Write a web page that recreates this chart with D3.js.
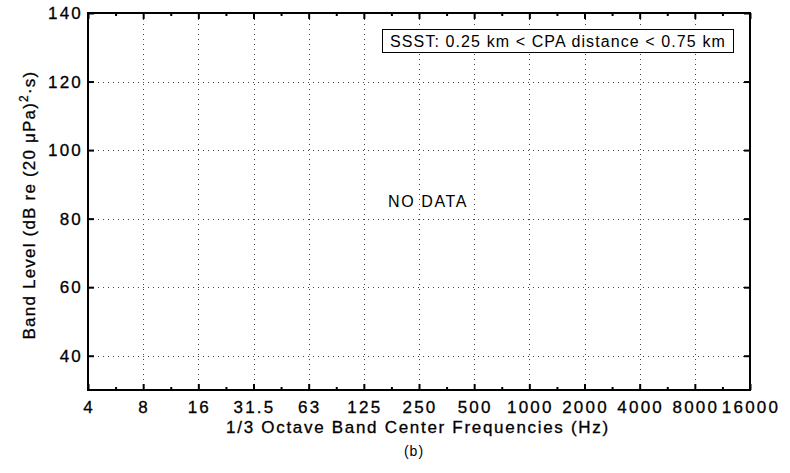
<!DOCTYPE html>
<html>
<head>
<meta charset="utf-8">
<script src="https://cdn.jsdelivr.net/npm/d3@7"></script>
<style>
  html, body { margin: 0; padding: 0; background: #fff; }
  svg { display: block; font-family: "Liberation Sans", Arial, Helvetica, sans-serif; }
</style>
</head>
<body>
<svg id="chart" width="790" height="473"></svg>
<script>
// 1/3-octave band centre labels shown on the x axis (one per octave)
const bandLabels = ["4", "8", "16", "31.5", "63", "125", "250", "500", "1000", "2000", "4000", "8000", "16000"];
// Band level axis
const levelDomain = [30, 140];
const levelTicks = [40, 60, 80, 100, 120, 140];
// Series values: no measurements for this CPA range
const bandLevels = [];
const legendText = "SSST: 0.25 km < CPA distance < 0.75 km";
const emptyText = "NO DATA";

const svg = d3.select("#chart");
const margin = { left: 88, right: 40, top: 13, bottom: 83 };
const W = 790, H = 473;
const x0 = margin.left, x1 = W - margin.right;
const y0 = H - margin.bottom, y1 = margin.top;

// Octave-spaced frequency positions (exact powers of two behind the nominal labels)
const octaveFreq = bandLabels.map((_, i) => 4 * Math.pow(2, i));
const x = d3.scaleLog().base(2).domain([octaveFreq[0], octaveFreq[octaveFreq.length - 1]]).range([x0, x1]);
const y = d3.scaleLinear().domain(levelDomain).range([y0, y1]);
const minorFreq = octaveFreq.slice(0, -1).map((f) => f * Math.SQRT2);

// Dotted grid
const grid = svg.append("g").attr("stroke", "#444").attr("stroke-width", 1).attr("stroke-dasharray", "1,4");
grid.selectAll("line.vx").data(octaveFreq.slice(1, -1)).join("line")
  .attr("x1", (d) => Math.round(x(d)) + 0.5).attr("x2", (d) => Math.round(x(d)) + 0.5)
  .attr("y1", y0).attr("y2", y1);
grid.selectAll("line.hy").data(levelTicks.filter((v) => v < levelDomain[1])).join("line")
  .attr("x1", x0).attr("x2", x1)
  .attr("y1", (d) => Math.round(y(d)) + 0.5).attr("y2", (d) => Math.round(y(d)) + 0.5);

// Data series (empty)
const line = d3.line().x((d, i) => x(octaveFreq[i])).y((d) => y(d));
svg.append("path").datum(bandLevels).attr("fill", "none").attr("stroke", "#000").attr("d", line);

// Axes with inward ticks on all four sides
const tickStyle = (g) => {
  g.select(".domain").remove();
  g.selectAll(".tick line").attr("stroke", "#000").attr("stroke-width", 2);
};
svg.append("g").attr("transform", `translate(0,${y0})`)
  .call(d3.axisBottom(x).tickValues(octaveFreq).tickSize(-6).tickFormat(""))
  .call(tickStyle);
svg.append("g").attr("transform", `translate(0,${y1})`)
  .call(d3.axisTop(x).tickValues(octaveFreq).tickSize(-6).tickFormat(""))
  .call(tickStyle);
svg.append("g").attr("transform", `translate(0,${y0})`)
  .call(d3.axisBottom(x).tickValues(minorFreq).tickSize(-3).tickFormat(""))
  .call(tickStyle);
svg.append("g").attr("transform", `translate(0,${y1})`)
  .call(d3.axisTop(x).tickValues(minorFreq).tickSize(-3).tickFormat(""))
  .call(tickStyle);
svg.append("g").attr("transform", `translate(${x0},0)`)
  .call(d3.axisLeft(y).tickValues(levelTicks).tickSize(-6).tickFormat(""))
  .call(tickStyle);
svg.append("g").attr("transform", `translate(${x1},0)`)
  .call(d3.axisRight(y).tickValues(levelTicks).tickSize(-6).tickFormat(""))
  .call(tickStyle);

// Plot frame
svg.append("rect").attr("x", x0).attr("y", y1).attr("width", x1 - x0).attr("height", y0 - y1)
  .attr("fill", "none").attr("stroke", "#000").attr("stroke-width", 2);

// Heavier label text for axes
const axisText = (sel) => sel.attr("fill", "#000").attr("stroke", "#000").attr("stroke-width", 0.3);

// Tick labels
svg.append("g").selectAll("text").data(bandLabels).join("text")
  .attr("x", (d, i) => x(octaveFreq[i]) + 1).attr("y", y0 + 23)
  .attr("text-anchor", "middle").attr("font-size", 17).attr("letter-spacing", 2.2)
  .call(axisText)
  .text((d) => d);
svg.append("g").selectAll("text").data(levelTicks).join("text")
  .attr("x", x0 - 5).attr("y", (d) => y(d) + 6)
  .attr("text-anchor", "end").attr("font-size", 17).attr("letter-spacing", 2.2)
  .call(axisText)
  .text((d) => d);

// Axis titles
svg.append("text")
  .attr("x", (x0 + x1) / 2 - 1).attr("y", 433)
  .attr("text-anchor", "middle").attr("font-size", 17).attr("letter-spacing", 1.7)
  .call(axisText)
  .text("1/3 Octave Band Center Frequencies (Hz)");

const yTitle = svg.append("text")
  .attr("transform", `translate(35,205) rotate(-90)`)
  .attr("text-anchor", "middle").attr("font-size", 17).attr("letter-spacing", 1.2)
  .call(axisText);
yTitle.append("tspan").text("Band Level (dB re (20 \u03BCPa)");
yTitle.append("tspan").attr("dy", -7).attr("font-size", 12).text("2");
yTitle.append("tspan").attr("dy", 7).text("\u00B7s)");

// Legend box
const legend = svg.append("g");
legend.append("rect").attr("x", 382.5).attr("y", 29.5).attr("width", 351).attr("height", 23)
  .attr("fill", "#fff").attr("stroke", "#000").attr("stroke-width", 1);
legend.append("text").attr("x", 558).attr("y", 47)
  .attr("text-anchor", "middle").attr("font-size", 16).attr("letter-spacing", 1.1)
  .text(legendText);

// Empty-data notice
svg.append("text").attr("x", 428).attr("y", 207)
  .attr("text-anchor", "middle").attr("font-size", 16).attr("letter-spacing", 1.6)
  .text(bandLevels.length ? "" : emptyText);

// Panel caption
svg.append("text").attr("x", 414).attr("y", 456)
  .attr("text-anchor", "middle").attr("font-size", 14).attr("letter-spacing", 1)
  .text("(b)");
</script>
</body>
</html>
